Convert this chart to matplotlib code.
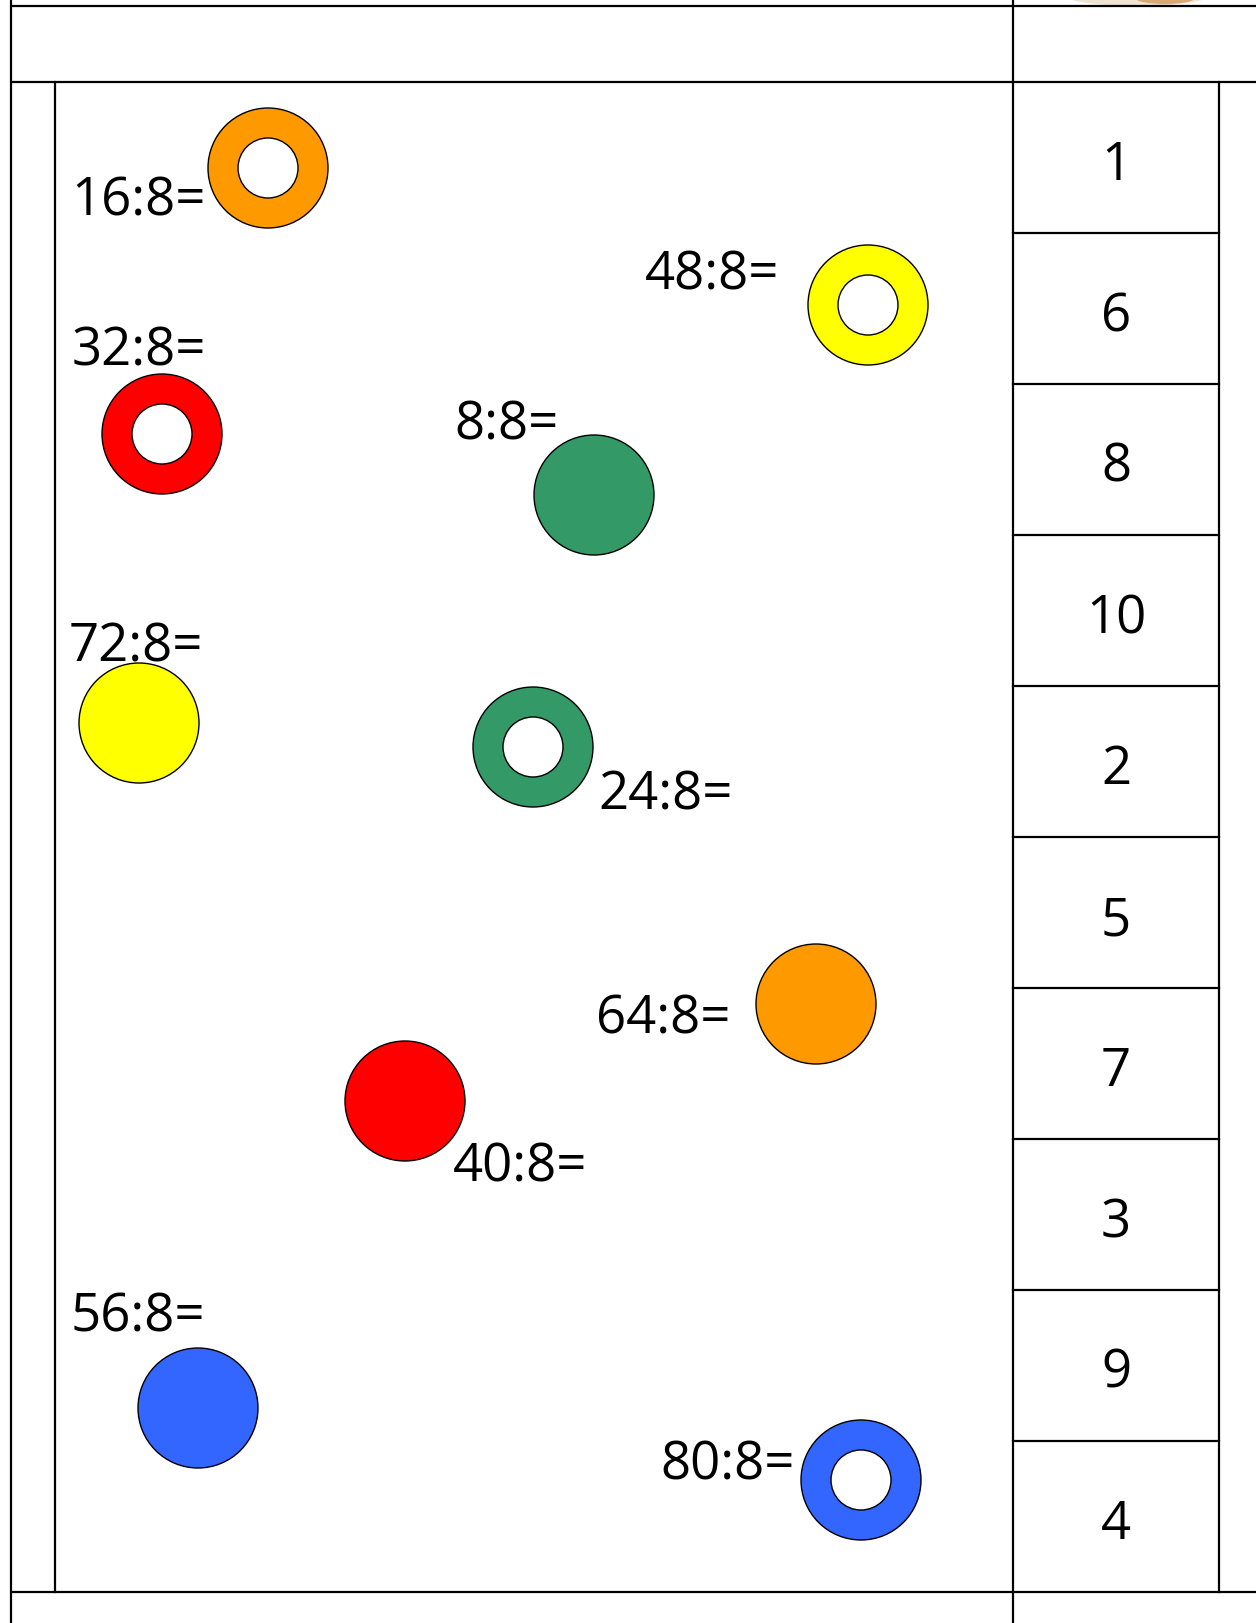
import matplotlib
matplotlib.use("Agg")
import matplotlib.pyplot as plt
from matplotlib.patches import Circle, Ellipse

# ---- data ----
problems = ["16:8=", "48:8=", "32:8=", "8:8=", "72:8=", "24:8=", "64:8=", "40:8=", "56:8=", "80:8="]
shape_colors = ["#FF9900", "#FFFF00", "#FF0000", "#339966", "#FFFF00",
                "#339966", "#FF9900", "#FF0000", "#3366FF", "#3366FF"]
shape_is_ring = [True, True, True, False, False, True, False, False, False, True]
answers = ["1", "6", "8", "10", "2", "5", "7", "3", "9", "4"]

# layout (pixel coordinates of the worksheet)
label_xy = [(71, 215), (645, 290), (72, 365), (454, 440), (69, 662),
            (598, 810), (596, 1034), (453, 1182), (71, 1332), (660, 1480)]
shape_xy = [(268, 168), (868, 305), (162, 434), (594, 495), (139, 723),
            (533, 747), (816, 1004), (405, 1101), (198, 1408), (861, 1480)]
R_OUT, R_IN = 60, 30

W, H = 1256, 1623
DPI = 100
fig = plt.figure(figsize=(W / DPI, H / DPI), dpi=DPI)
ax = fig.add_axes([0, 0, 1, 1])
ax.set_xlim(0, W)
ax.set_ylim(H, 0)
ax.axis("off")

FONT = ["Open Sans", "DejaVu Sans"]
LW = 1.6
lc = "black"

# table lines
for y in (6, 82, 1592):
    ax.plot([11, W], [y, y], color=lc, lw=LW, solid_capstyle="butt")
ax.plot([11, 11], [0, H], color=lc, lw=LW)
ax.plot([55, 55], [82, 1592], color=lc, lw=LW)
ax.plot([1013, 1013], [0, H], color=lc, lw=LW)
ax.plot([1219, 1219], [82, 1592], color=lc, lw=LW)

cell_top, cell_h = 82, 151
for i in range(1, len(answers)):
    y = cell_top + i * cell_h
    ax.plot([1013, 1219], [y, y], color=lc, lw=LW)

# partial image at top right (cropped picture)
ax.add_patch(Ellipse((1137, -6), 150, 24, facecolor="#EFE3D2", edgecolor="none", zorder=1))
ax.add_patch(Ellipse((1165, -2), 60, 12, facecolor="#D9A874", edgecolor="none", zorder=1))

# answers column
for i, a in enumerate(answers):
    ax.text(1116, cell_top + i * cell_h + 98, a, ha="center", va="baseline",
            fontsize=38, family=FONT, color="black", zorder=5)

# shapes
for (cx, cy), col, ring in zip(shape_xy, shape_colors, shape_is_ring):
    ax.add_patch(Circle((cx, cy), R_OUT, facecolor=col, edgecolor="black", lw=1.0, zorder=2))
    if ring:
        ax.add_patch(Circle((cx, cy), R_IN, facecolor="white", edgecolor="black", lw=1.0, zorder=3))

# problem labels
for (x, y), t in zip(label_xy, problems):
    ax.text(x, y, t, ha="left", va="baseline", fontsize=38, family=FONT,
            color="black", zorder=6)

fig.savefig("out.png", dpi=DPI, facecolor="white")
